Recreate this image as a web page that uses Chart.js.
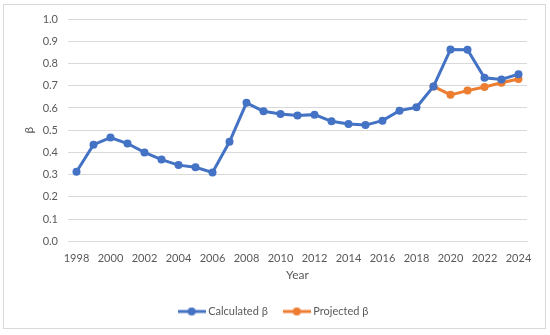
<!DOCTYPE html>
<html>
<head>
<meta charset="utf-8">
<script src="https://cdn.jsdelivr.net/npm/chart.js@4"></script>
<style>
  html, body { margin: 0; padding: 0; background: #fff; }
  #wrap { position: relative; width: 550px; height: 335px; }
  #frame { position: absolute; left: 3px; top: 4px; width: 543px; height: 325px; border: 1px solid #d9d9d9; box-sizing: border-box; pointer-events: none; }
</style>
</head>
<body>
<div id="wrap">
  <canvas id="myChart" width="550" height="335"></canvas>
  <div id="frame"></div>
</div>
<script>
const years = [1998, 1999, 2000, 2001, 2002, 2003, 2004, 2005, 2006, 2007, 2008, 2009, 2010,
  2011, 2012, 2013, 2014, 2015, 2016, 2017, 2018, 2019, 2020, 2021, 2022, 2023, 2024];

const calculatedBeta = [0.313, 0.435, 0.467, 0.440, 0.400, 0.368, 0.343, 0.333, 0.310, 0.448,
  0.623, 0.585, 0.573, 0.566, 0.570, 0.540, 0.528, 0.523, 0.543, 0.588, 0.603, 0.697,
  0.863, 0.862, 0.736, 0.728, 0.752];

// projection only starts in 2019
const projectedBeta = [null, null, null, null, null, null, null, null, null, null, null, null, null,
  null, null, null, null, null, null, null, null, 0.697, 0.659, 0.678, 0.694, 0.713, 0.730];

const blue = '#4472C4';
const orange = '#ED7D31';
const textColor = '#595959';

// excel style legend marker: line with a dot in the middle
function legendMarker(color) {
  const c = document.createElement('canvas');
  c.width = 28;
  c.height = 10;
  const g = c.getContext('2d');
  g.strokeStyle = color;
  g.lineWidth = 3;
  g.beginPath();
  g.moveTo(0, 5);
  g.lineTo(28, 5);
  g.stroke();
  g.fillStyle = color;
  g.beginPath();
  g.arc(14, 5, 4, 0, Math.PI * 2);
  g.fill();
  return c;
}

Chart.defaults.font.family = 'Lato, "Open Sans", sans-serif';
Chart.defaults.font.size = 11;
Chart.defaults.color = textColor;

const ctx = document.getElementById('myChart');

new Chart(ctx, {
  type: 'line',
  data: {
    labels: years,
    datasets: [
      {
        label: 'Calculated β',
        data: calculatedBeta,
        borderColor: blue,
        backgroundColor: blue,
        borderWidth: 3,
        pointRadius: 4,
        pointHoverRadius: 4,
        pointBorderWidth: 0,
        tension: 0
      },
      {
        label: 'Projected β',
        data: projectedBeta,
        borderColor: orange,
        backgroundColor: orange,
        borderWidth: 3,
        pointRadius: 4,
        pointHoverRadius: 4,
        pointBorderWidth: 0,
        tension: 0
      }
    ]
  },
  options: {
    responsive: false,
    animation: false,
    layout: {
      padding: { left: 22, right: 23, top: 19, bottom: 8 }
    },
    plugins: {
      tooltip: { enabled: false },
      legend: {
        position: 'bottom',
        labels: {
          usePointStyle: true,
          pointStyleWidth: 22,
          boxHeight: 10,
          padding: 18,
          font: { size: 11 },
          generateLabels: function (chart) {
            return chart.data.datasets.map(function (ds, i) {
              return {
                text: ds.label,
                fontColor: textColor,
                pointStyle: legendMarker(ds.borderColor),
                hidden: false,
                datasetIndex: i,
                lineWidth: 0,
                strokeStyle: 'transparent',
                fillStyle: 'transparent'
              };
            });
          }
        }
      }
    },
    scales: {
      x: {
        offset: true,
        grid: { display: false },
        border: { color: '#d9d9d9' },
        ticks: {
          autoSkip: false,
          maxRotation: 0,
          padding: 2,
          callback: function (value, index) {
            const y = years[index];
            return y % 2 === 0 ? String(y) : '';
          }
        },
        title: {
          display: true,
          text: 'Year',
          color: textColor,
          font: { size: 12 },
          padding: { top: 1, bottom: 6 }
        }
      },
      y: {
        min: 0,
        max: 1,
        grid: { color: '#d9d9d9', drawTicks: false },
        border: { display: false },
        ticks: {
          stepSize: 0.1,
          padding: 10,
          callback: function (v) { return v.toFixed(1); }
        },
        title: {
          display: true,
          text: 'β',
          color: textColor,
          font: { size: 12 },
          padding: 0
        },
        afterFit: function (scale) { scale.width = 46; }
      }
    }
  }
});
</script>
</body>
</html>
